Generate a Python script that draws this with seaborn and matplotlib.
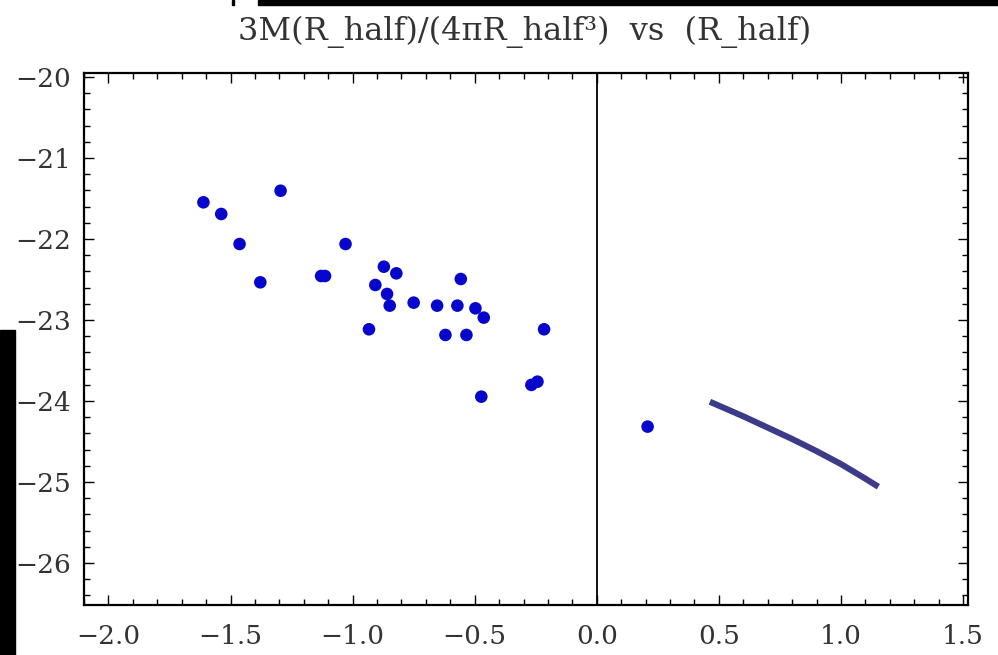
import numpy as np
import pandas as pd
import matplotlib
matplotlib.use("Agg")
import matplotlib.pyplot as plt
from matplotlib.ticker import MultipleLocator, FuncFormatter
from matplotlib.patches import Rectangle
import seaborn as sns

# Observed galaxies: log R_half vs log mean density inside R_half
log_r_half = [-1.611, -1.538, -1.295, -1.463, -1.378, -1.129, -1.113, -1.029,
              -0.872, -0.821, -0.907, -0.859, -0.848, -0.933, -0.750, -0.654,
              -0.557, -0.571, -0.497, -0.463, -0.620, -0.534, -0.216, -0.268,
              -0.243, -0.473, 0.208]
log_density = [-21.547, -21.691, -21.404, -22.062, -22.535, -22.457, -22.457,
               -22.062, -22.342, -22.424, -22.568, -22.679, -22.823, -23.115,
               -22.786, -22.823, -22.494, -22.823, -22.856, -22.971, -23.185,
               -23.185, -23.115, -23.802, -23.762, -23.947, -24.317]

# Model curve
model_r = [0.463, 0.60, 0.70, 0.80, 0.90, 1.00, 1.10, 1.153]
model_density = [-24.01, -24.19, -24.33, -24.47, -24.62, -24.78, -24.96, -25.06]

title_text = "3M(R_half)/(4\u03c0R_half\u00b3)  vs  (R_half)"
x_ticks = [-2.0, -1.5, -1.0, -0.5, 0.0, 0.5, 1.0, 1.5]
y_ticks = [-20, -21, -22, -23, -24, -25, -26]

sns.set_style("ticks")
plt.rcParams["font.family"] = ["DejaVu Serif"]

W, H = 998, 655
fig = plt.figure(figsize=(W / 100, H / 100), dpi=100)
fig.patch.set_facecolor("white")
ax = fig.add_axes([84 / W, 1 - 605 / H, (968 - 84) / W, (605 - 73) / H])

obs = pd.DataFrame({"r": log_r_half, "rho": log_density})
model = pd.DataFrame({"r": model_r, "rho": model_density})

ax.axvline(0, color="black", lw=1.3, zorder=1)
sns.lineplot(data=model, x="r", y="rho", ax=ax, sort=False,
             color="#3b3b8a", lw=4.4, solid_capstyle="butt", zorder=2)
sns.scatterplot(data=obs, x="r", y="rho", ax=ax, color="#0606cc",
                s=82, edgecolor="none", linewidth=0, zorder=3)

ax.set_xlim(-2.1, 1.52)
ax.set_ylim(-26.52, -19.95)
ax.set_xlabel("")
ax.set_ylabel("")

ax.set_xticks(x_ticks)
ax.set_yticks(y_ticks)
ax.xaxis.set_minor_locator(MultipleLocator(0.1))
ax.yaxis.set_minor_locator(MultipleLocator(0.2))
ax.xaxis.set_major_formatter(FuncFormatter(lambda v, p: f"{v:.1f}".replace("-", "\u2212")))
ax.yaxis.set_major_formatter(FuncFormatter(lambda v, p: f"{v:.0f}".replace("-", "\u2212")))

ax.tick_params(which="both", direction="in", top=True, right=True,
               colors="black", width=1.0, labelcolor="#333333")
ax.tick_params(which="major", length=7.5, labelsize=19)
ax.tick_params(which="minor", length=4.5)
ax.tick_params(axis="x", which="major", pad=14)
ax.tick_params(axis="y", which="major", pad=9)
for sp in ax.spines.values():
    sp.set_linewidth(1.6)
    sp.set_color("black")

fig.text(525 / W, 1 - 32 / H, title_text, ha="center", va="center",
         fontsize=23, color="#333333")

# Dark window edges around the frame
def px_rect(x0, y0, x1, y1):
    fig.patches.append(Rectangle((x0 / W, 1 - y1 / H), (x1 - x0) / W, (y1 - y0) / H,
                                 transform=fig.transFigure, color="black", zorder=10))

px_rect(258, 0, 998, 5)
px_rect(0, 330, 15, 655)
px_rect(232, 0, 234, 5)

fig.savefig("out.png", dpi=100)
